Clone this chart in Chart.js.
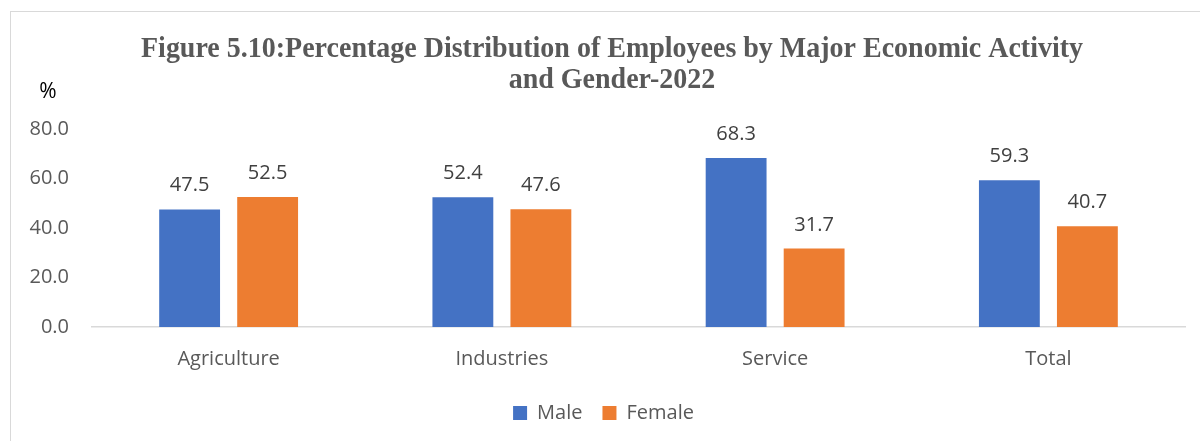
<!DOCTYPE html>
<html>
<head>
<meta charset="utf-8">
<script src="https://cdn.jsdelivr.net/npm/chart.js@4.4.1/dist/chart.umd.min.js"></script>
<style>
  body { margin: 0; background: #fff; }
  #frame {
    position: absolute; left: 10px; top: 11px; width: 1200px; height: 440px;
    border-left: 1px solid #d9d9d9; border-top: 1px solid #d9d9d9;
  }
  #chart { position: absolute; left: 0; top: 0; }
</style>
</head>
<body>
<div id="frame"></div>
<canvas id="chart" width="1200" height="441"></canvas>
<script>
const activities = ['Agriculture', 'Industries', 'Service', 'Total']
const maleShare = [47.5, 52.4, 68.3, 59.3]
const femaleShare = [52.5, 47.6, 31.7, 40.7]
const titleLines = [
  'Figure 5.10:Percentage Distribution of Employees by Major Economic Activity',
  'and Gender-2022'
]
const unitLabel = '%'

const textFont = { family: 'Open Sans', size: 20 }

// two-line serif heading, squeezed a little horizontally, plus the unit label
const heading = {
  id: 'heading',
  afterDraw(chart) {
    const ctx = chart.ctx
    ctx.save()
    ctx.fillStyle = '#595959'
    ctx.font = 'bold 30px "Liberation Serif"'
    ctx.textAlign = 'center'
    ctx.textBaseline = 'alphabetic'
    const squeeze = 942 / ctx.measureText(titleLines[0]).width
    const baselines = [57, 88]
    titleLines.forEach((line, i) => {
      ctx.save()
      ctx.translate(612, baselines[i])
      ctx.scale(squeeze, 1)
      ctx.fillText(line, 0, 0)
      ctx.restore()
    })
    ctx.fillStyle = '#000'
    ctx.font = '21px "Open Sans"'
    ctx.fillText(unitLabel, 48, 98)
    ctx.restore()
  }
}

// numbers over each bar
const valueLabels = {
  id: 'valueLabels',
  afterDatasetsDraw(chart) {
    const ctx = chart.ctx
    ctx.save()
    ctx.font = '20px "Open Sans"'
    ctx.fillStyle = '#404040'
    ctx.textAlign = 'center'
    ctx.textBaseline = 'alphabetic'
    chart.data.datasets.forEach((ds, i) => {
      chart.getDatasetMeta(i).data.forEach((bar, j) => {
        ctx.fillText(ds.data[j].toFixed(1), bar.x, bar.y - 18)
      })
    })
    ctx.restore()
  }
}

new Chart(document.getElementById('chart'), {
  type: 'bar',
  data: {
    labels: activities,
    datasets: [
      { label: 'Male', data: maleShare, backgroundColor: '#4472C4' },
      { label: 'Female', data: femaleShare, backgroundColor: '#ED7D31' },
    ]
  },
  options: {
    responsive: false,
    animation: false,
    categoryPercentage: 0.571,
    barPercentage: 0.78,
    layout: { padding: { top: 129, left: 22, right: 15, bottom: 8 } },
    scales: {
      x: {
        grid: { display: false, drawTicks: false },
        border: { display: true, color: '#d9d9d9', width: 1.5 },
        ticks: { color: '#595959', font: textFont, padding: 20 },
        afterFit: s => { s.height = 56 }
      },
      y: {
        min: 0,
        max: 80,
        grid: { display: false, drawTicks: false },
        border: { display: false },
        ticks: {
          stepSize: 20,
          color: '#595959',
          font: textFont,
          padding: 23,
          callback: v => v.toFixed(1)
        },
        afterFit: s => { s.width = 70 }
      }
    },
    plugins: {
      legend: {
        position: 'bottom',
        labels: {
          boxWidth: 14,
          boxHeight: 14,
          padding: 20,
          color: '#595959',
          font: textFont
        }
      },
      tooltip: { enabled: false }
    }
  },
  plugins: [heading, valueLabels]
})
</script>
</body>
</html>
